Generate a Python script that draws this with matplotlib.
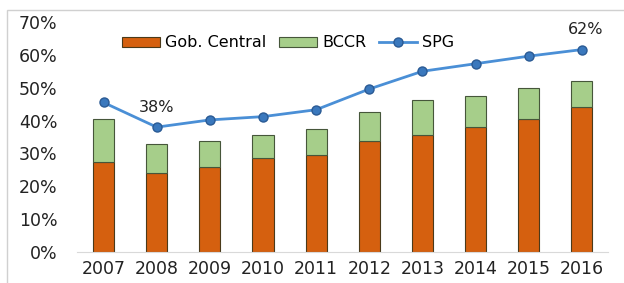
import matplotlib.pyplot as plt
import numpy as np
from matplotlib.patches import Rectangle

# Values (share of GDP, %)
years = ['2007', '2008', '2009', '2010', '2011', '2012', '2013', '2014', '2015', '2016']
gob_central = [27.4, 24.1, 25.9, 28.5, 29.5, 33.8, 35.6, 38.1, 40.6, 44.0]
bccr = [13.0, 8.7, 7.9, 7.1, 7.9, 8.8, 10.6, 9.4, 9.4, 8.0]
spg = [45.5, 38.0, 40.2, 41.2, 43.3, 49.6, 55.0, 57.3, 59.6, 61.6]

fig = plt.figure(figsize=(6.24, 2.83), dpi=100)
ax = fig.add_axes([0.1234, 0.1095, 0.8516, 0.8128])

x = np.arange(len(years))
w = 0.4
b1 = ax.bar(x, gob_central, width=w, color='#D5600F', edgecolor='#4a3a1a', linewidth=0.8,
            label='Gob. Central', zorder=2)
b2 = ax.bar(x, bccr, width=w, bottom=gob_central, color='#A6CE8A', edgecolor='#46563a',
            linewidth=0.8, label='BCCR', zorder=2)
ln, = ax.plot(x, spg, color='#4A8FD6', linewidth=2, marker='o', markersize=6.5,
              markerfacecolor='#3A78BD', markeredgecolor='#2A5A94', label='SPG', zorder=3)

# data labels
ax.annotate('38%', (x[1], spg[1]), xytext=(0, 9), textcoords='offset points',
            ha='center', va='bottom', fontsize=11.5, color='#222222')
ax.annotate('62%', (x[-1], spg[-1]), xytext=(3, 9), textcoords='offset points',
            ha='center', va='bottom', fontsize=11.5, color='#222222')

ax.set_xlim(-0.5, len(years) - 0.5)
ax.set_ylim(0, 70)
ax.set_yticks(np.arange(0, 71, 10))
ax.set_yticklabels([f'{v}%' for v in range(0, 71, 10)])
ax.set_xticks(x)
ax.set_xticklabels(years)
ax.tick_params(length=0, labelsize=12.5, colors='#222222')
ax.tick_params(axis='y', pad=14)
ax.tick_params(axis='x', pad=6)
for s in ['top', 'right', 'left']:
    ax.spines[s].set_visible(False)
ax.spines['bottom'].set_color('#d9d9d9')

ax.legend(handles=[b1, b2, ln], loc='center', bbox_to_anchor=(0.397, 0.909), ncol=3,
          frameon=False, fontsize=11.5, handlelength=2.4, handleheight=0.6,
          columnspacing=0.8, handletextpad=0.3)

# outer frame
fig.patches.append(Rectangle((7 / 624, -0.01), 1.0, 1 - 10 / 283 + 0.01,
                             transform=fig.transFigure, fill=False,
                             edgecolor='#d0d0d0', linewidth=1))

fig.savefig('out.png', dpi=100)
